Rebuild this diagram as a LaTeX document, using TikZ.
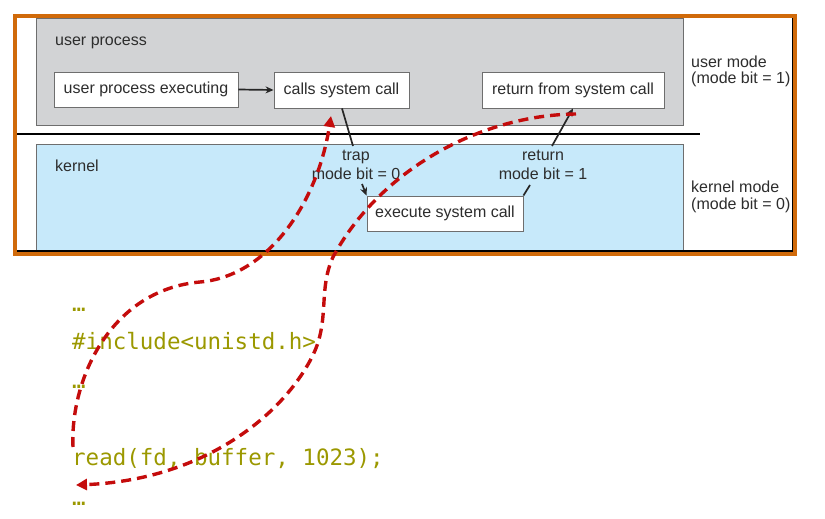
\documentclass[tikz,border=0pt]{standalone}
\usepackage{fontspec}
\setmainfont{Liberation Sans}
\newfontfamily\codefont{DejaVu Sans Mono}
\usetikzlibrary{arrows.meta}
\definecolor{frameorange}{RGB}{208,106,10}
\definecolor{usergray}{RGB}{210,211,213}
\definecolor{kernelblue}{RGB}{199,233,250}
\definecolor{boxborder}{RGB}{110,110,110}
\definecolor{labeltext}{RGB}{45,45,45}
\definecolor{codeolive}{RGB}{155,152,0}
\definecolor{flowred}{RGB}{196,12,12}
\tikzset{
  stepbox/.style={draw=boxborder, line width=0.9pt, fill=white, rectangle,
    inner sep=0pt, text=labeltext, font=\fontsize{16}{19}\selectfont},
  lbl/.style={inner sep=0pt, text=labeltext, font=\fontsize{16}{19}\selectfont, anchor=base},
  lblw/.style={lbl, anchor=base west},
  codeline/.style={inner sep=0pt, anchor=base west, text=codeolive,
    font=\codefont\fontsize{22.5}{26}\selectfont},
  conn/.style={draw=black!85, line width=1.7pt},
  connarrow/.style={conn, -{Stealth[length=8pt,width=7pt]}},
  flow/.style={draw=flowred, line width=3.4pt, dash pattern=on 10pt off 6pt,
    -{Triangle[length=11pt,width=11pt]}}
}
\begin{document}
\begin{tikzpicture}[x=1pt,y=-1pt]
\useasboundingbox (0,0) rectangle (825,519);
% frame background
\fill[white] (15,16) rectangle (795,254);
% regions
\draw[fill=usergray, draw=boxborder, line width=0.8pt] (36,18) rectangle (683,125);
\draw[fill=kernelblue, draw=boxborder, line width=0.8pt] (36,144) rectangle (683,250);
\draw[black, line width=1.5pt] (15,134) -- (700,134);
% shadow lines and orange frame
\draw[black, line width=2pt] (792.5,16) -- (792.5,251) -- (15,251);
\draw[frameorange, line width=4pt] (15,16) rectangle (795,254);
% region labels
\node[lblw] (ulabel) at (55,46) {user process};
\node[lblw] (klabel) at (55,171) {kernel};
\node[lblw] (um1) at (691,67) {user mode};
\node[lblw] (um2) at (691,84) {(mode bit = 1)};
\node[lblw] (km1) at (691,192) {kernel mode};
\node[lblw] (km2) at (691,209) {(mode bit = 0)};
% boxes
\node[stepbox, minimum width=184pt, minimum height=35pt] (exec) at (146,89.5) {user process executing};
\node[stepbox, minimum width=135pt, minimum height=36pt] (calls) at (341.5,90) {calls system call};
\node[stepbox, minimum width=182pt, minimum height=36pt] (ret) at (573,90) {return from system call};
\node[stepbox, minimum width=156pt, minimum height=35pt] (sys) at (445,213.5) {execute system call};
% trap / return labels
\node[lbl] (trap1) at (356,160) {trap};
\node[lbl] (trap2) at (356,179) {mode bit = 0};
\node[lbl] (ret1) at (543,160) {return};
\node[lbl] (ret2) at (543,179) {mode bit = 1};
% connectors
\draw[connarrow] (exec.east) -- (calls.west);
\coordinate (trapA) at (353,146);
\coordinate (trapB) at (362,184);
\draw[conn] (calls.south -| 342,0) -- (trapA);
\draw[connarrow] (trapB) -- (sys.north west);
\coordinate (retA) at (530,185);
\coordinate (retB) at (552,146);
\draw[conn] (sys.north east) -- (retA);
\draw[connarrow] (retB) -- (ret.south);
% code
\node[codeline] (c1) at (72,311) {…};
\node[codeline] (c2) at (72,349) {\#include<unistd.h>};
\node[codeline] (c3) at (72,388) {…};
\node[codeline] (c4) at (72,465) {read(fd, buffer, 1023);};
\node[codeline] (c5) at (72,505) {…};
% red flow curves
\coordinate (p1) at (73,447);
\coordinate (p2) at (200,282);
\coordinate (p3) at (331,116);
\draw[flow] (p1) .. controls (70,380) and (110,290) .. (p2)
  .. controls (270,276) and (318,200) .. (p3);
\coordinate (q1) at (576,114);
\coordinate (q2) at (333,257);
\coordinate (q3) at (313,355);
\coordinate (q4) at (76,485);
\draw[flow] (q1) .. controls (480,115) and (380,170) .. (q2)
  .. controls (318,290) and (330,320) .. (q3)
  .. controls (282,418) and (200,480) .. (q4);
\end{tikzpicture}
\end{document}
